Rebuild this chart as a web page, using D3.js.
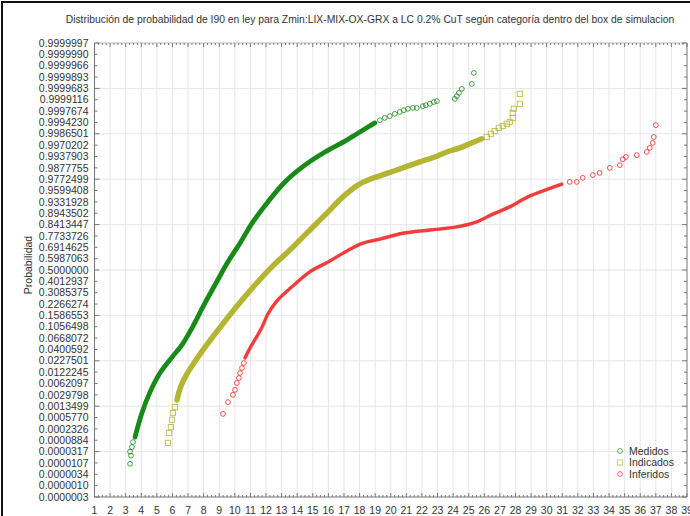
<!DOCTYPE html>
<html><head><meta charset="utf-8">
<script src="https://cdn.jsdelivr.net/npm/d3@7"></script>
<style>
body{margin:0;background:#fff}
svg{display:block}
text{font-family:"Liberation Sans",Arial,sans-serif;fill:#333}
</style>
</head><body>
<svg id="c" width="690" height="516"></svg>
<script>
const titleText = "Distribución de probabilidad de I90 en ley para Zmin:LIX-MIX-OX-GRX a LC 0.2% CuT según categoría dentro del box de simulacion";
const yTitleText = "Probabilidad";
const xTicks = [1,2,3,4,5,6,7,8,9,10,11,12,13,14,15,16,17,18,19,20,21,22,23,24,25,26,27,28,29,30,31,32,33,34,35,36,37,38,39];
// normal scores of the probability ticks (bottom to top) and their labels
const yTickScores = [-5,-4.75,-4.5,-4.25,-4,-3.75,-3.5,-3.25,-3,-2.75,-2.5,-2.25,-2,-1.75,-1.5,-1.25,-1,-0.75,-0.5,-0.25,0,0.25,0.5,0.75,1,1.25,1.5,1.75,2,2.25,2.5,2.75,3,3.25,3.5,3.75,4,4.25,4.5,4.75,5];
const yTickLabels = ["0.0000003","0.0000010","0.0000034","0.0000107","0.0000317","0.0000884","0.0002326","0.0005770","0.0013499","0.0029798","0.0062097","0.0122245","0.0227501","0.0400592","0.0668072","0.1056498","0.1586553","0.2266274","0.3085375","0.4012937","0.5000000","0.5987063","0.6914625","0.7733726","0.8413447","0.8943502","0.9331928","0.9599408","0.9772499","0.9877755","0.9937903","0.9970202","0.9986501","0.9994230","0.9997674","0.9999116","0.9999683","0.9999893","0.9999966","0.9999990","0.9999997"];
const seriesNames = ["Medidos","Indicados","Inferidos"];

// [I90 ley, normal score]
const medidosLow = [[3.28,-4.27],[3.34,-4.09],[3.28,-4.0],[3.40,-3.90],[3.47,-3.79]];
const medidosBand = [[3.60,-3.68],[4.04,-3.15],[4.56,-2.69],[5.20,-2.27],[5.97,-1.92],[6.61,-1.65],[7.25,-1.28],[8.02,-0.77],[8.79,-0.29],[9.56,0.18],[10.33,0.59],[11.16,1.06],[12.12,1.50],[13.21,1.94],[14.49,2.31],[15.78,2.60],[17.06,2.84],[18.02,3.04],[18.98,3.24]];
const medidosHigh = [[19.30,3.30],[19.62,3.35],[19.94,3.39],[20.26,3.44],[20.58,3.48],[20.84,3.52],[21.10,3.55],[21.42,3.57],[21.67,3.57],[22.06,3.61],[22.25,3.63],[22.51,3.66],[22.76,3.70],[22.96,3.72],[24.11,3.77],[24.24,3.83],[24.37,3.90],[24.56,3.99],[25.20,4.10],[25.33,4.34]];

const indicadosLow = [[5.71,-3.81],[5.78,-3.59],[5.90,-3.46],[5.97,-3.30],[6.03,-3.15],[6.16,-3.02]];
const indicadosBand = [[6.29,-2.86],[6.54,-2.56],[6.93,-2.29],[7.51,-1.98],[8.28,-1.61],[9.17,-1.21],[10.20,-0.77],[11.29,-0.33],[12.38,0.07],[13.53,0.44],[14.69,0.84],[15.84,1.23],[16.93,1.61],[17.89,1.87],[18.66,2.00],[19.62,2.11],[20.78,2.25],[21.87,2.38],[22.83,2.49],[23.60,2.60],[24.43,2.69],[25.20,2.80],[25.84,2.89]];
const indicadosHigh = [[26.16,2.93],[26.42,3.00],[26.67,3.06],[26.93,3.13],[27.19,3.17],[27.44,3.22],[27.63,3.26],[27.83,3.35],[27.83,3.46],[27.89,3.55],[28.28,3.66],[28.28,3.88]];

const inferidosLow = [[9.24,-3.17],[9.56,-2.91],[9.88,-2.75],[10.01,-2.64],[10.13,-2.49],[10.26,-2.38],[10.33,-2.27],[10.46,-2.16],[10.58,-2.05]];
const inferidosBand = [[10.65,-1.94],[10.97,-1.72],[11.35,-1.50],[11.74,-1.26],[12.12,-0.97],[12.70,-0.68],[13.66,-0.37],[14.81,-0.04],[16.10,0.20],[17.19,0.42],[18.21,0.59],[19.30,0.68],[20.78,0.81],[22.51,0.88],[24.24,0.95],[25.52,1.06],[26.54,1.23],[27.63,1.39],[28.79,1.61],[30.07,1.78],[30.97,1.89]];
const inferidosHigh = [[31.48,1.94],[31.93,1.94],[32.31,2.03],[32.96,2.09],[33.40,2.14],[34.05,2.25],[34.69,2.31],[34.88,2.44],[35.08,2.49],[35.78,2.53],[36.42,2.60],[36.61,2.69],[36.80,2.80],[36.87,2.93],[37.00,3.19]];

const W = 690, H = 516;
const plot = {left: 94.5, right: 687, top: 43, bottom: 497};
const svg = d3.select("#c");

const x = d3.scaleLinear().domain([1, 39]).range([plot.left, plot.right]);
const y = d3.scaleLinear().domain([-5, 5]).range([plot.bottom, plot.top]);

// outer frame
svg.append("rect").attr("x", 2).attr("y", 2).attr("width", W + 10).attr("height", H + 10)
  .attr("fill", "none").attr("stroke", "#111").attr("stroke-width", 2);

// title
svg.append("text").attr("x", 370).attr("y", 23).attr("text-anchor", "middle")
  .attr("font-size", "10.35px").text(titleText);

// grid
const g = svg.append("g");
g.selectAll(".vg").data(xTicks.filter(d => d > 1 && d < 39)).join("line")
  .attr("x1", d => x(d)).attr("x2", d => x(d)).attr("y1", plot.top).attr("y2", plot.bottom)
  .attr("stroke", "#e6e6e6").attr("stroke-width", 1);
g.selectAll(".hg").data(yTickScores.filter(d => Number.isInteger(d) && d > -5 && d < 5)).join("line")
  .attr("x1", plot.left).attr("x2", plot.right).attr("y1", d => y(d)).attr("y2", d => y(d))
  .attr("stroke", "#e6e6e6").attr("stroke-width", 1);

// axes frame
const ax = svg.append("g").attr("stroke", "#777").attr("stroke-width", 1);
ax.append("line").attr("x1", plot.left).attr("x2", plot.left).attr("y1", plot.top).attr("y2", plot.bottom);
ax.append("line").attr("x1", plot.right).attr("x2", plot.right).attr("y1", plot.top).attr("y2", plot.bottom);
ax.append("line").attr("x1", plot.left).attr("x2", plot.right).attr("y1", plot.bottom).attr("y2", plot.bottom);
ax.append("line").attr("x1", plot.left).attr("x2", plot.right).attr("y1", plot.top).attr("y2", plot.top).attr("stroke", "#bbb");

// y ticks (left inward, right inward)
ax.selectAll(".yl").data(yTickScores).join("line")
  .attr("x1", plot.left).attr("x2", d => plot.left + (Number.isInteger(d) ? 5 : 3))
  .attr("y1", d => y(d)).attr("y2", d => y(d));
ax.selectAll(".yr").data(yTickScores).join("line")
  .attr("x1", plot.right).attr("x2", d => plot.right - (Number.isInteger(d) ? 5 : 3))
  .attr("y1", d => y(d)).attr("y2", d => y(d));
// x ticks: majors and quarter minors, bottom and top, inward
const xMinor = d3.range(0, (39 - 1) * 4 + 1).map(i => 1 + i / 4);
ax.selectAll(".xb").data(xMinor).join("line")
  .attr("x1", d => x(d)).attr("x2", d => x(d))
  .attr("y1", plot.bottom).attr("y2", d => plot.bottom - (Number.isInteger(d) ? 4 : 2));
ax.selectAll(".xt").data(xMinor).join("line")
  .attr("x1", d => x(d)).attr("x2", d => x(d))
  .attr("y1", plot.top).attr("y2", d => plot.top + (Number.isInteger(d) ? 4 : 2));

// tick labels
svg.append("g").selectAll("text").data(yTickScores).join("text")
  .attr("x", plot.left - 6).attr("y", d => y(d)).attr("dy", "0.35em")
  .attr("text-anchor", "end").attr("font-size", "10.5px")
  .text((d, i) => yTickLabels[i]);
svg.append("g").selectAll("text").data(xTicks).join("text")
  .attr("x", d => x(d)).attr("y", plot.bottom + 17)
  .attr("text-anchor", "middle").attr("font-size", "10.5px").text(d => d);

// y title
svg.append("text").attr("transform", `translate(32,${y(0) - 5}) rotate(-90)`)
  .attr("text-anchor", "middle").attr("font-size", "10.5px").text(yTitleText);

// series
const colors = ["#178a17", "#b4b533", "#f02828"];
const bandWidths = [4.8, 5.5, 3.4];
const series = [
  {low: medidosLow, band: medidosBand, high: medidosHigh, shape: "circle"},
  {low: indicadosLow, band: indicadosBand, high: indicadosHigh, shape: "square"},
  {low: inferidosLow, band: inferidosBand, high: inferidosHigh, shape: "circle"}
];
const line = d3.line().x(d => x(d[0])).y(d => y(d[1])).curve(d3.curveCatmullRom);
svg.append("clipPath").attr("id", "pc").append("rect")
  .attr("x", plot.left).attr("y", plot.top).attr("width", plot.right - plot.left).attr("height", plot.bottom - plot.top);
const pg = svg.append("g").attr("clip-path", "url(#pc)");

function marker(sel, shape, color) {
  if (shape === "circle") {
    sel.append("circle").attr("r", 2.4).attr("fill", "none").attr("stroke", color).attr("stroke-width", 1);
  } else {
    sel.append("rect").attr("x", -2.6).attr("y", -2.6).attr("width", 5.2).attr("height", 5.2)
      .attr("fill", "none").attr("stroke", color).attr("stroke-width", 1);
  }
}

series.forEach((s, i) => {
  const sg = pg.append("g");
  sg.append("path").datum(s.band).attr("d", line).attr("fill", "none")
    .attr("stroke", colors[i]).attr("stroke-width", bandWidths[i]).attr("stroke-linecap", "round")
    .attr("opacity", i === 2 ? 0.9 : 1);
  const pts = s.low.concat(s.high);
  sg.selectAll("g.m").data(pts).join("g").attr("class", "m")
    .attr("transform", d => `translate(${x(d[0])},${y(d[1])})`)
    .each(function () { marker(d3.select(this), s.shape, colors[i]); })
    .attr("opacity", 0.8);
});

// legend
const lg = svg.append("g");
seriesNames.forEach((n, i) => {
  const ly = 451 + i * 11.5;
  const mg = lg.append("g").attr("transform", `translate(620,${ly})`).attr("opacity", 0.7);
  marker(mg, series[i].shape, colors[i]);
  lg.append("text").attr("x", 629).attr("y", ly).attr("dy", "0.35em").attr("font-size", "10.5px").text(n);
});
</script>
</body></html>
